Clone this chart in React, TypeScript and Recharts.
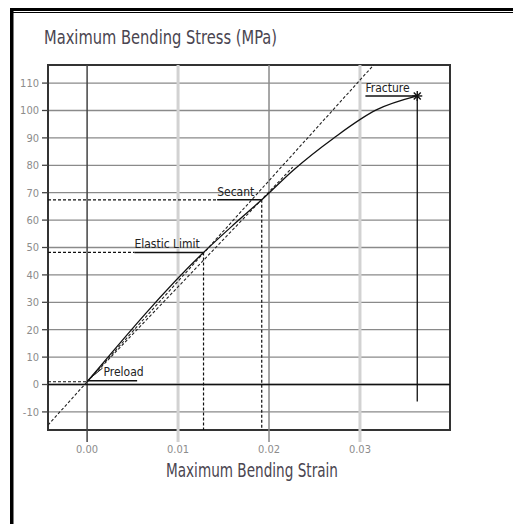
import React from 'react';
import {
  ComposedChart, Line, Scatter, XAxis, YAxis, CartesianGrid, ReferenceLine, ReferenceArea,
} from 'recharts';

// stress-strain curve
const curveStrain = [0.0, 0.0128, 0.016, 0.0192, 0.0227, 0.0271, 0.0318, 0.0363];
const curveStress = [1.0, 48.2, 58.0, 67.4, 78.3, 89.9, 100.2, 105.3];

// modulus (dashed) line and secant line
const modulusLine = [{ x: -0.0043, y: -14.8 }, { x: 0.0315, y: 116.6 }];
const secantLine = [{ x: 0.0, y: 1.0 }, { x: 0.0226, y: 79.3 }];

// markers
const preload = { x: 0.0, y: 1.0 };
const elastic = { x: 0.0128, y: 48.2 };
const secant = { x: 0.0192, y: 67.4 };
const fracture = { x: 0.0363, y: 105.3 };

const xTicks = [0, 0.01, 0.02, 0.03];
const yTicks = [-10, 0, 10, 20, 30, 40, 50, 60, 70, 80, 90, 100, 110];

const X_MIN = -0.0043;
const X_MAX = 0.0399;
const Y_MIN = -16.6;
const Y_MAX = 116.6;

const curveData = curveStrain.map((x, i) => ({ x, y: curveStress[i] }));

const FONT = '"Liberation Sans Narrow", "Arial Narrow", "DejaVu Sans Condensed", "Liberation Sans", sans-serif';

const tickStyle: Record<number, { stroke: string; width: number }> = {
  0: { stroke: '#444', width: 1.5 },
  0.01: { stroke: '#d2d2d2', width: 3 },
  0.02: { stroke: '#8a8a8a', width: 1.5 },
  0.03: { stroke: '#d2d2d2', width: 3 },
};

const XTick = (props: any) => {
  const { x, y, payload } = props;
  const s = tickStyle[payload.value] || { stroke: '#888', width: 1 };
  return (
    <g>
      <line x1={x} x2={x} y1={y} y2={y + 12} stroke={s.stroke} strokeWidth={s.width} />
      <text x={x} y={y + 23} textAnchor="middle" fontSize={11} fontFamily={FONT} fill="#8c8c8c">
        {payload.value.toFixed(2)}
      </text>
    </g>
  );
};

const annotLabel = (text: string) => (props: any) => {
  const { x, y, index } = props;
  if (index !== 0) return null;
  return (
    <text x={x} y={y - 4} fontSize={12} fontFamily={FONT} fill="#222">
      {text}
    </text>
  );
};

const Asterisk = (props: any) => {
  const { cx, cy } = props;
  const r = 5;
  return (
    <g stroke="#111" strokeWidth={1.4}>
      <line x1={cx - r} x2={cx + r} y1={cy} y2={cy} />
      <line x1={cx} x2={cx} y1={cy - r} y2={cy + r} />
      <line x1={cx - r * 0.7} x2={cx + r * 0.7} y1={cy - r * 0.7} y2={cy + r * 0.7} />
      <line x1={cx - r * 0.7} x2={cx + r * 0.7} y1={cy + r * 0.7} y2={cy - r * 0.7} />
    </g>
  );
};

const dashed = { stroke: '#111', strokeWidth: 1.2, strokeDasharray: '3 2', dot: false, isAnimationActive: false } as const;
const solid = { stroke: '#111', strokeWidth: 1.5, dot: false, isAnimationActive: false } as const;

export default function App() {
  return (
    <div style={{ position: 'relative', width: 513, height: 524, background: '#fff' }}>
      <style>{'body{margin:0}'}</style>
      <ComposedChart width={513} height={524} margin={{ top: 65, right: 63, bottom: 64, left: 0 }}>
        <CartesianGrid vertical={false} stroke="#8a8a8a" strokeWidth={1.3} />
        <XAxis
          type="number"
          dataKey="x"
          domain={[X_MIN, X_MAX]}
          ticks={xTicks}
          allowDataOverflow
          axisLine={false}
          tickLine={false}
          tickSize={0}
          tickMargin={0}
          height={30}
          tick={<XTick />}
        />
        <YAxis
          type="number"
          dataKey="y"
          domain={[Y_MIN, Y_MAX]}
          ticks={yTicks}
          allowDataOverflow
          width={48}
          axisLine={false}
          tickSize={6}
          tickMargin={3}
          tickLine={{ stroke: '#444', strokeWidth: 1.3 }}
          tick={{ fontSize: 11, fontFamily: FONT, fill: '#8c8c8c' }}
        />
        {xTicks.map((t) => (
          <ReferenceLine key={t} x={t} stroke={tickStyle[t].stroke} strokeWidth={tickStyle[t].width} />
        ))}
        <ReferenceLine y={0} stroke="#111" strokeWidth={1.5} />
        <ReferenceArea x1={X_MIN} x2={X_MAX} y1={Y_MIN} y2={Y_MAX} fill="none" stroke="#333" strokeWidth={2} />

        {/* guide lines to the axes */}
        <Line data={[{ x: X_MIN, y: preload.y }, { x: preload.x, y: preload.y }]} dataKey="y" {...dashed} />
        <Line data={[{ x: X_MIN, y: elastic.y }, { x: 0.0052, y: elastic.y }]} dataKey="y" {...dashed} />
        <Line data={[{ x: X_MIN, y: secant.y }, { x: 0.0143, y: secant.y }]} dataKey="y" {...dashed} />
        <Line data={[{ x: elastic.x, y: elastic.y }, { x: elastic.x, y: Y_MIN }]} dataKey="y" {...dashed} />
        <Line data={[{ x: secant.x, y: secant.y }, { x: secant.x, y: Y_MIN }]} dataKey="y" {...dashed} />

        {/* label underlines */}
        <Line data={[{ x: 0.0018, y: 1.6 }, { x: 0.0055, y: 1.6 }]} dataKey="y" stroke="none" dot={false} isAnimationActive={false} label={annotLabel('Preload')} />
        <Line data={[{ x: 0.0, y: 1.4 }, { x: 0.0055, y: 1.4 }]} dataKey="y" {...solid} />
        <Line data={[{ x: 0.0003, y: 2.2 }, { x: 0.0017, y: 6.0 }]} dataKey="y" {...solid} strokeWidth={1} />
        <Line data={[{ x: 0.0052, y: elastic.y }, { x: elastic.x, y: elastic.y }]} dataKey="y" {...solid} label={annotLabel('Elastic Limit')} />
        <Line data={[{ x: 0.0143, y: secant.y }, { x: secant.x, y: secant.y }]} dataKey="y" {...solid} label={annotLabel('Secant')} />
        <Line data={[{ x: 0.0306, y: fracture.y }, { x: fracture.x, y: fracture.y }]} dataKey="y" {...solid} label={annotLabel('Fracture')} />
        <Line data={[{ x: fracture.x, y: fracture.y }, { x: fracture.x, y: -6.2 }]} dataKey="y" {...solid} strokeWidth={1.3} />

        <Line data={modulusLine} dataKey="y" stroke="#222" strokeWidth={1.1} strokeDasharray="3 2" dot={false} isAnimationActive={false} />
        <Line data={secantLine} dataKey="y" stroke="#222" strokeWidth={1.1} strokeDasharray="3 2" dot={false} isAnimationActive={false} />
        <Line data={curveData} dataKey="y" type="monotone" stroke="#111" strokeWidth={1.3} dot={false} isAnimationActive={false} />
        <Scatter data={[fracture]} dataKey="y" shape={<Asterisk />} isAnimationActive={false} />
      </ComposedChart>
      <svg width={513} height={524} style={{ position: 'absolute', left: 0, top: 0, pointerEvents: 'none' }}>
        <rect x={10} y={8} width={503} height={3} fill="#000" />
        <rect x={13} y={12} width={500} height={1} fill="#000" />
        <rect x={10} y={8} width={3.5} height={516} fill="#000" />
        <text x={44} y={44} fontSize={19} fontFamily={FONT} fill="#4a4550" textLength={233} lengthAdjust="spacingAndGlyphs">
          Maximum Bending Stress (MPa)
        </text>
        <text x={166} y={477} fontSize={20} fontFamily={FONT} fill="#4a4550" textLength={172} lengthAdjust="spacingAndGlyphs">
          Maximum Bending Strain
        </text>
      </svg>
    </div>
  );
}
